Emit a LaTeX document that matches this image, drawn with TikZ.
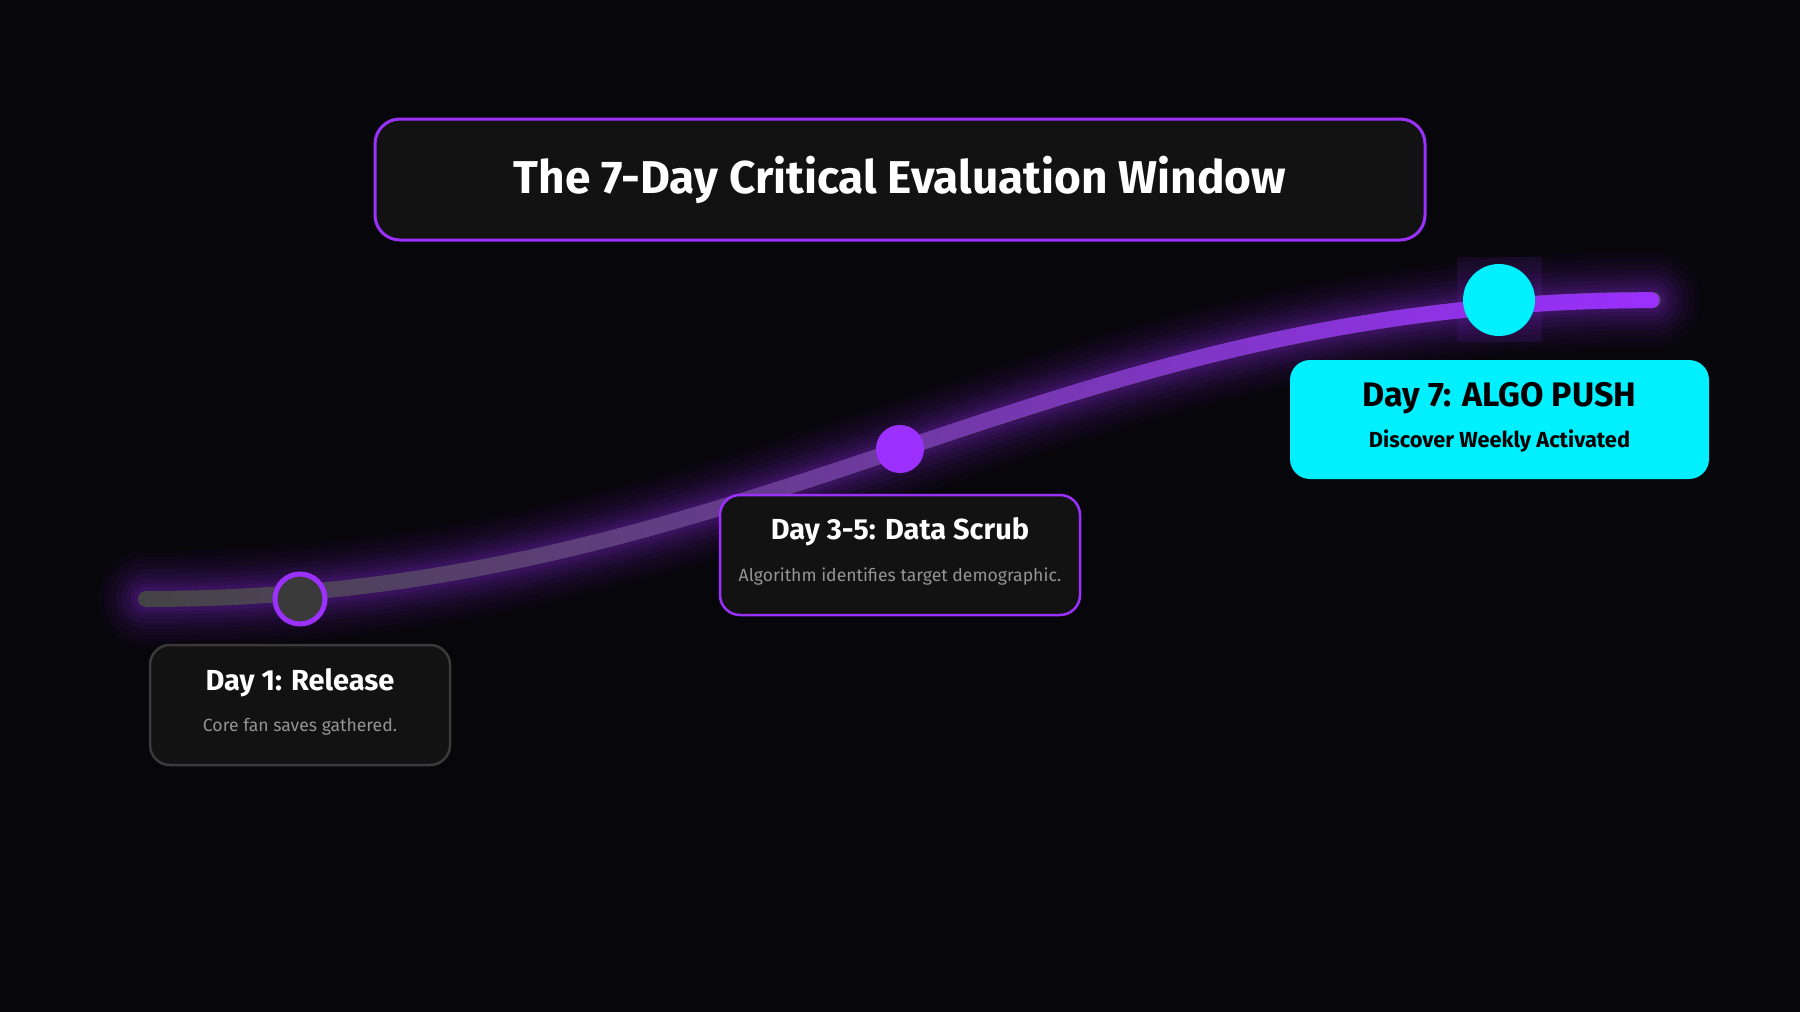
\documentclass[tikz,border=0pt]{standalone}
\usepackage{fontspec}
\setmainfont{Fira Sans}
\usetikzlibrary{positioning,fadings}

\definecolor{bgdark}{HTML}{07060B}
\definecolor{cardfill}{HTML}{121212}
\definecolor{neonpurple}{HTML}{9B30FF}
\definecolor{neoncyan}{HTML}{00F0FF}
\definecolor{lineGray}{HTML}{444444}
\definecolor{cardedge}{HTML}{3A3A3A}
\definecolor{subgray}{HTML}{949494}

\tikzfading[name=fadein, left color=transparent!100, middle color=transparent!50, right color=transparent!0]

\tikzset{
  card/.style={rounded corners=20, line width=2.5, fill=cardfill, minimum width=300, minimum height=120},
  cardtitle/.style={text=white, font=\bfseries\fontsize{29}{34}\selectfont},
  cardsub/.style={text=subgray, font=\fontsize{17.6}{21}\selectfont},
  glow/.style={neonpurple, line cap=round}
}

\begin{document}
\begin{tikzpicture}[x=1pt,y=-1pt]

% background
\fill[bgdark] (0,0) rectangle (1800,1012);
\useasboundingbox (0,0) rectangle (1800,1012);

% Title
\node[draw=neonpurple, line width=3, fill=cardfill, rounded corners=25,
      minimum width=1050, minimum height=121, text=white,
      font=\bfseries\fontsize{46}{54}\selectfont] (title) at (900,179.5)
      {The 7-Day Critical Evaluation Window};

% Curve ends
\coordinate (start) at (146,599);
\coordinate (finish) at (1653,300);

% Glow under the curve
\foreach \w/\o in {96/0.03, 84/0.035, 72/0.04, 60/0.05, 50/0.055, 40/0.06, 31/0.07, 24/0.08}
  \draw[glow, line width=\w, opacity=\o] (start) .. controls (760,599) and (1040,300) .. (finish);

% The curve, gray to purple
\draw[lineGray, line width=16, line cap=round] (start) .. controls (760,599) and (1040,300) .. (finish);
\draw[neonpurple, line width=16, line cap=round, path fading=fadein] (start) .. controls (760,599) and (1040,300) .. (finish);

% Day 7 glow
\fill[neonpurple, opacity=0.1] (1457,257) rectangle (1542,342);

% Dots
\node[circle, draw=neonpurple, line width=5, fill=cardedge, minimum size=50, inner sep=0] (dayone) at (300,599) {};
\node[circle, fill=neonpurple, minimum size=48, inner sep=0] (dayfive) at (900,449) {};
\node[circle, fill=neoncyan, minimum size=72, inner sep=0] (dayseven) at (1499,300) {};

% Cards
\node[card, draw=cardedge] (onecard) at (300,705) {};
\node[cardtitle] at ([yshift=-38.5]onecard.north) {Day 1: Release};
\node[cardsub] at ([yshift=-83]onecard.north) {Core fan saves gathered.};

\node[card, draw=neonpurple, minimum width=360] (fivecard) at (900,555) {};
\node[cardtitle] at ([yshift=-38]fivecard.north) {Day 3-5: Data Scrub};
\node[cardsub] at ([yshift=-83]fivecard.north) {Algorithm identifies target demographic.};

\node[card, fill=neoncyan, minimum width=419, minimum height=119] (sevencard) at (1499.5,419.5) {};
\node[cardtitle, text=black, font=\bfseries\fontsize{34}{40}\selectfont] at ([yshift=-39]sevencard.north) {Day 7: ALGO PUSH};
\node[cardsub, text=black, font=\bfseries\fontsize{21.8}{26}\selectfont] at ([yshift=-82]sevencard.north) {Discover Weekly Activated};

\end{tikzpicture}
\end{document}
